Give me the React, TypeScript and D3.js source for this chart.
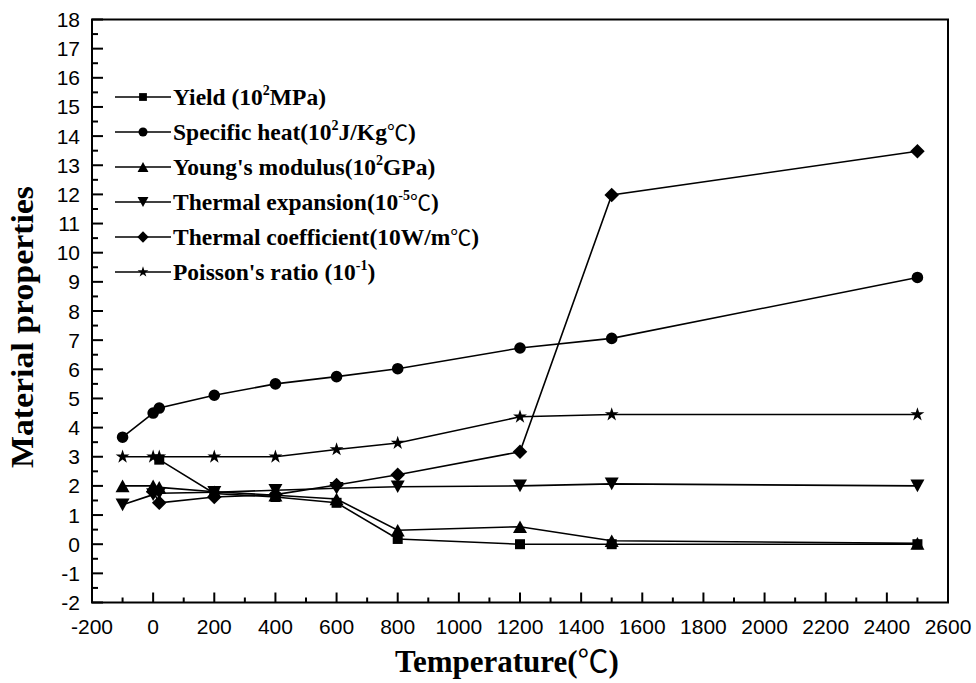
import React from 'react';
import * as d3 from 'd3';

const W = 976;
const H = 683;
const PLOT = { left: 92, right: 948, top: 19.5, bottom: 602.5 };

const xTickValues = [-200, 0, 200, 400, 600, 800, 1000, 1200, 1400, 1600, 1800, 2000, 2200, 2400, 2600];
const yTickValues = [-2, -1, 0, 1, 2, 3, 4, 5, 6, 7, 8, 9, 10, 11, 12, 13, 14, 15, 16, 17, 18];

const yieldT = [20, 200, 400, 600, 800, 1200, 1500, 2500];
const yieldV = [2.9, 1.74, 1.62, 1.42, 0.18, 0, 0, 0];

const heatT = [-100, 0, 20, 200, 400, 600, 800, 1200, 1500, 2500];
const heatV = [3.67, 4.5, 4.67, 5.11, 5.5, 5.75, 6.02, 6.73, 7.06, 9.15];

const youngT = [-100, 0, 20, 200, 400, 600, 800, 1200, 1500, 2500];
const youngV = [2.0, 2.0, 1.95, 1.8, 1.68, 1.55, 0.48, 0.6, 0.12, 0.03];

const expT = [-100, 0, 20, 200, 400, 600, 800, 1200, 1500, 2500];
const expV = [1.35, 1.7, 1.75, 1.78, 1.85, 1.92, 1.97, 2.0, 2.07, 2.0];

const condT = [0, 20, 200, 400, 600, 800, 1200, 1500, 2500];
const condV = [1.8, 1.42, 1.62, 1.7, 2.03, 2.38, 3.17, 11.98, 13.48];

const poisT = [-100, 0, 20, 200, 400, 600, 800, 1200, 1500, 2500];
const poisV = [3.0, 3.0, 3.0, 3.0, 3.0, 3.25, 3.47, 4.37, 4.45, 4.45];

const seriesNames = ['Yield', 'Specific heat', "Young's modulus", 'Thermal expansion', 'Thermal coefficient', "Poisson's ratio"];
const seriesMarkers = ['square', 'circle', 'triUp', 'triDown', 'diamond', 'star'];
const legendMain = ['Yield (10', 'Specific heat(10', "Young's modulus(10", 'Thermal expansion(10', 'Thermal coefficient(10W/m', "Poisson's ratio (10"];
const legendSup = ['2', '2', '2', '-5', '', '-1'];
const legendRest = ['MPa)', 'J/Kg', 'GPa)', '', '', ')'];
const legendDeg = [false, true, false, true, true, false];

const seriesT = [yieldT, heatT, youngT, expT, condT, poisT];
const seriesV = [yieldV, heatV, youngV, expV, condV, poisV];

const x = d3.scaleLinear().domain([-200, 2600]).range([PLOT.left, PLOT.right]);
const y = d3.scaleLinear().domain([-2, 18]).range([PLOT.bottom, PLOT.top]);

const serif = '"Liberation Serif", "Times New Roman", Times, serif';
const sans = '"Liberation Sans", Arial, Helvetica, sans-serif';
const cjk = '"Noto Sans CJK SC", "DejaVu Sans", sans-serif';

function markerPath(type: string, s: number): string {
  switch (type) {
    case 'square':
      return `M${-s},${-s}H${s}V${s}H${-s}Z`;
    case 'circle':
      return d3.symbol(d3.symbolCircle, Math.PI * s * s)() as string;
    case 'triUp': {
      const h = s * 1.8;
      return `M0,${-h / 2}L${s},${h / 2}L${-s},${h / 2}Z`;
    }
    case 'triDown': {
      const h = s * 1.8;
      return `M0,${h / 2}L${s},${-h / 2}L${-s},${-h / 2}Z`;
    }
    case 'diamond': {
      const d = s * 1.35;
      return `M0,${-d}L${d},0L0,${d}L${-d},0Z`;
    }
    case 'star': {
      const ka = 0.8908130915292852;
      const r = s * 1.35;
      return d3.symbol(d3.symbolStar, (r * r) / ka)() as string;
    }
  }
  return '';
}

const markerHalf: Record<string, number> = {
  square: 5,
  circle: 5.8,
  triUp: 7,
  triDown: 7,
  diamond: 5.4,
  star: 5.4,
};

export default function App() {
  const line = d3
    .line<[number, number]>()
    .x((d) => x(d[0]))
    .y((d) => y(d[1]));

  const xMinor = d3.range(-100, 2600, 200);
  const yMinor = d3.range(-1.5, 18, 1);

  const legendX0 = 115;
  const legendX1 = 171;
  const legendY0 = 97;
  const legendDy = 35;

  return (
    <svg width={W} height={H} style={{ position: 'absolute', left: 0, top: 0, background: '#fff' }}>
      <rect x={0} y={0} width={W} height={H} fill="#fff" />
      {seriesT.map((ts, i) => {
        const pts: [number, number][] = ts.map((t, j) => [t, seriesV[i][j]]);
        const type = seriesMarkers[i];
        return (
          <g key={seriesNames[i]}>
            <path d={line(pts) as string} fill="none" stroke="#000" strokeWidth={1.6} />
            {pts.map((p, j) => (
              <path
                key={j}
                d={markerPath(type, markerHalf[type])}
                transform={`translate(${x(p[0])},${y(p[1])})`}
                fill="#000"
              />
            ))}
          </g>
        );
      })}

      <rect
        x={PLOT.left}
        y={PLOT.top}
        width={PLOT.right - PLOT.left}
        height={PLOT.bottom - PLOT.top}
        fill="none"
        stroke="#000"
        strokeWidth={2}
      />

      {xTickValues.map((v) => (
        <g key={'xt' + v}>
          <line x1={x(v)} x2={x(v)} y1={PLOT.bottom} y2={PLOT.bottom - 10} stroke="#000" strokeWidth={2} />
          <text x={x(v)} y={634} textAnchor="middle" fontFamily={sans} fontSize={21} fill="#000">
            {v}
          </text>
        </g>
      ))}
      {xMinor.map((v) => (
        <line key={'xm' + v} x1={x(v)} x2={x(v)} y1={PLOT.bottom} y2={PLOT.bottom - 5} stroke="#000" strokeWidth={2} />
      ))}

      {yTickValues.map((v) => (
        <g key={'yt' + v}>
          <line x1={PLOT.left} x2={PLOT.left + 11} y1={y(v)} y2={y(v)} stroke="#000" strokeWidth={2} />
          <text x={80} y={y(v) + 7.5} textAnchor="end" fontFamily={sans} fontSize={21} fill="#000">
            {v}
          </text>
        </g>
      ))}
      {yMinor.map((v) => (
        <line key={'ym' + v} x1={PLOT.left} x2={PLOT.left + 6} y1={y(v)} y2={y(v)} stroke="#000" strokeWidth={2} />
      ))}

      <text x={507} y={672} textAnchor="middle" fontFamily={serif} fontWeight="bold" fontSize={31} fill="#000">
        Temperature(
        <tspan fontFamily={cjk} fontWeight="normal">
          ℃
        </tspan>
        )
      </text>
      <text
        transform={`translate(33,327) rotate(-90)`}
        textAnchor="middle"
        fontFamily={serif}
        fontWeight="bold"
        fontSize={31}
        fill="#000"
        textLength={282}
        lengthAdjust="spacingAndGlyphs"
      >
        Material properties
      </text>

      {seriesNames.map((name, i) => {
        const ly = legendY0 + i * legendDy;
        const type = seriesMarkers[i];
        const hasSup = legendSup[i] !== '';
        const hasRest = legendRest[i] !== '';
        return (
          <g key={'lg' + name}>
            <line x1={legendX0} x2={legendX1} y1={ly} y2={ly} stroke="#000" strokeWidth={1.6} />
            <path
              d={markerPath(type, markerHalf[type] * 0.78)}
              transform={`translate(${(legendX0 + legendX1) / 2},${ly})`}
              fill="#000"
            />
            <text x={legendX1 + 2} y={ly + 8} fontFamily={serif} fontWeight="bold" fontSize={23.5} fill="#000">
              {legendMain[i]}
              {hasSup && (
                <tspan fontSize={14} dy={-10}>
                  {legendSup[i]}
                </tspan>
              )}
              {hasRest && <tspan dy={hasSup ? 10 : 0}>{legendRest[i]}</tspan>}
              {legendDeg[i] && (
                <tspan fontFamily={cjk} fontWeight="normal" fontSize={21} dy={hasSup && !hasRest ? 10 : 0}>
                  ℃
                </tspan>
              )}
              {legendDeg[i] && <tspan>)</tspan>}
            </text>
          </g>
        );
      })}
    </svg>
  );
}
